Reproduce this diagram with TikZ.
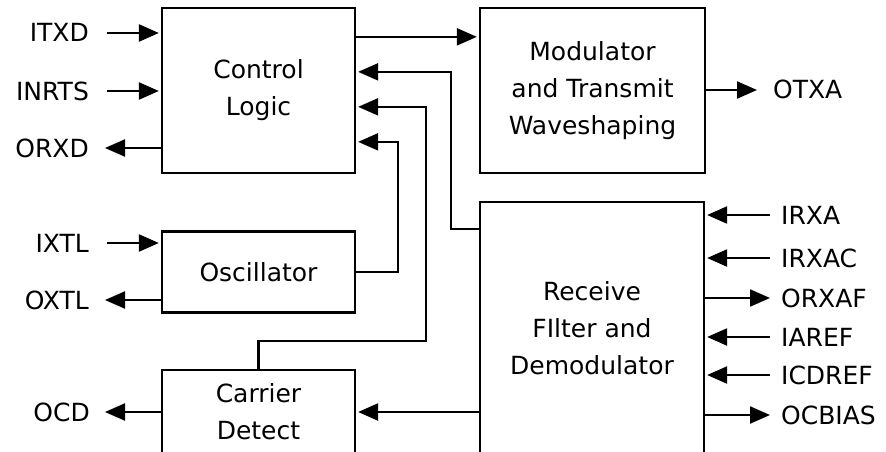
\documentclass[tikz,border=0pt]{standalone}
\usepackage{fontspec}
\setmainfont{DejaVu Sans}
\usetikzlibrary{arrows.meta,positioning,calc}

\begin{document}
\begin{tikzpicture}[x=1pt, y=-1pt, font=\fontsize{25}{37}\selectfont, >={Triangle[length=20pt,width=17pt]},
  line width=2.3pt,
  blk/.style={draw, align=center, inner sep=0pt},
  pinl/.style={inner sep=0pt, text height=18pt, text depth=0pt},
  sig/.style={->, shorten >=2pt}]
\useasboundingbox (0,0) rectangle (886,452);
\clip (0,0) rectangle (886,452);
% blocks
\node[blk, minimum width=193pt, minimum height=165pt] (ctrl) at (258.5,90.5) {Control\\Logic};
\node[blk, minimum width=225pt, minimum height=165pt] (mod) at (592.5,90.5) {Modulator\\and Transmit\\Waveshaping};
\node[blk, minimum width=224pt, minimum height=253pt] (rcv) at (592,328.5) {Receive\\FIlter and\\Demodulator};
\node[blk, minimum width=193pt, minimum height=81pt] (osc) at (258.5,272) {Oscillator};
\node[blk, minimum width=193pt, minimum height=84pt] (cd) at (258.5,412) {Carrier\\Detect};
% internal signals
\draw[sig] ([yshift=-30pt]ctrl.north east) -- ([yshift=-30pt]mod.north west);
\draw[sig] ([yshift=-28pt]rcv.north west) -| ([xshift=95pt,yshift=-65pt]ctrl.north east) -- ([yshift=-65pt]ctrl.north east);
\draw[sig] (cd.north) -- ++(0,-28) -| ([xshift=70pt,yshift=-100pt]ctrl.north east) -- ([yshift=-100pt]ctrl.north east);
\draw[sig] (osc.east) -| ([xshift=42pt,yshift=-135pt]ctrl.north east) -- ([yshift=-135pt]ctrl.north east);
\draw[sig] (rcv.west |- cd.east) -- (cd.east);
% left pins
\node[pinl, anchor=east] (itxd) at (90,33) {ITXD};
\node[pinl, anchor=east] (inrts) at (90,91) {INRTS};
\node[pinl, anchor=east] (orxd) at (90,148) {ORXD};
\node[pinl, anchor=east] (ixtl) at (90,243) {IXTL};
\node[pinl, anchor=east] (oxtl) at (90,300) {OXTL};
\node[pinl, anchor=east] (ocd) at (91,412) {OCD};
\draw[sig, shorten <=17pt] (itxd) -- (itxd -| ctrl.west);
\draw[sig, shorten <=17pt] (inrts) -- (inrts -| ctrl.west);
\draw[->, shorten >=15pt] (ctrl.west |- orxd) -- (orxd);
\draw[sig, shorten <=17pt] (ixtl) -- (ixtl -| osc.west);
\draw[->, shorten >=15pt] (osc.west |- oxtl) -- (oxtl);
\draw[->, shorten >=14pt] (cd.west |- ocd) -- (ocd);
% right pins
\node[pinl, anchor=west] (otxa) at (772,90) {OTXA};
\draw[->, shorten >=15pt] (mod.east |- otxa) -- (otxa);
\node[pinl, anchor=west] (irxa) at (780,215) {IRXA};
\node[pinl, anchor=west] (irxac) at (780,258) {IRXAC};
\node[pinl, anchor=west] (orxaf) at (780,298) {ORXAF};
\node[pinl, anchor=west] (iaref) at (780,337) {IAREF};
\node[pinl, anchor=west] (icdref) at (780,375) {ICDREF};
\node[pinl, anchor=west] (ocbias) at (780,415) {OCBIAS};
\draw[sig, shorten <=10pt] (irxa) -- (irxa -| rcv.east);
\draw[sig, shorten <=10pt] (irxac) -- (irxac -| rcv.east);
\draw[->, shorten >=10pt] (rcv.east |- orxaf) -- (orxaf);
\draw[sig, shorten <=10pt] (iaref) -- (iaref -| rcv.east);
\draw[sig, shorten <=10pt] (icdref) -- (icdref -| rcv.east);
\draw[->, shorten >=10pt] (rcv.east |- ocbias) -- (ocbias);
\end{tikzpicture}
\end{document}
